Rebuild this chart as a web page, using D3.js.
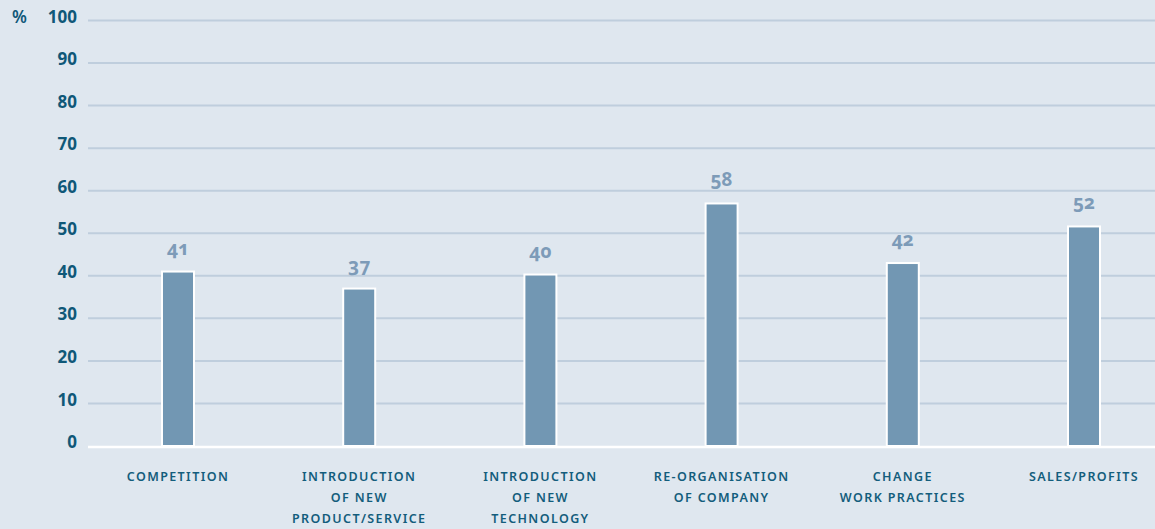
<!DOCTYPE html>
<html>
<head>
<meta charset="utf-8">
<script src="https://cdn.jsdelivr.net/npm/d3@7"></script>
<style>
  html, body { margin: 0; padding: 0; background: #dfe7ef; }
  svg { display: block; }
  text { font-family: "Noto Sans", "Open Sans", sans-serif; }
</style>
</head>
<body>
<svg id="chart" width="1155" height="529"></svg>
<script>
// ---- data ----
const categories = [
  ["COMPETITION"],
  ["INTRODUCTION", "OF NEW", "PRODUCT/SERVICE"],
  ["INTRODUCTION", "OF NEW", "TECHNOLOGY"],
  ["RE-ORGANISATION", "OF COMPANY"],
  ["CHANGE", "WORK PRACTICES"],
  ["SALES/PROFITS"]
];
const barValues = [41, 37, 40.3, 57, 43, 51.6];
const valueLabels = ["41", "37", "40", "58", "42", "52"];
const yTicks = [0, 10, 20, 30, 40, 50, 60, 70, 80, 90, 100];

// ---- layout ----
const W = 1155, H = 529;
const svg = d3.select("#chart");
svg.append("rect").attr("width", W).attr("height", H).attr("fill", "#dfe7ef");

const y = d3.scaleLinear().domain([0, 100]).range([446, 20.5]);
const x = d3.scaleBand().domain(d3.range(categories.length)).range([87.4, 1174.6]).padding(0);
const barW = 32;
const cx = i => x(i) + x.bandwidth() / 2;

// gridlines
svg.append("g").selectAll("line").data(yTicks.filter(d => d > 0)).join("line")
  .attr("x1", 88).attr("x2", W)
  .attr("y1", d => y(d)).attr("y2", d => y(d))
  .attr("stroke", "#bfcedd").attr("stroke-width", 2);

// tick labels
svg.append("g").selectAll("text").data(yTicks).join("text")
  .attr("x", 77).attr("y", d => y(d) - 4)
  .attr("dy", "0.36em")
  .attr("text-anchor", "end")
  .attr("fill", "#0f5878")
  .attr("font-size", 17).attr("font-weight", 700)
  .text(d => d);

svg.append("text").attr("x", 12).attr("y", y(100) - 4).attr("dy", "0.36em")
  .attr("fill", "#0f5878").attr("font-size", 17).attr("font-weight", 600).text("%");

// bars
svg.append("g").selectAll("rect").data(barValues).join("rect")
  .attr("x", (d, i) => cx(i) - barW / 2)
  .attr("y", d => y(d))
  .attr("width", barW)
  .attr("height", d => y(0) - y(d))
  .attr("fill", "#7297b3")
  .attr("stroke", "#ffffff").attr("stroke-width", 2);

// zero line
svg.append("line").attr("x1", 88).attr("x2", W).attr("y1", y(0) + 1).attr("y2", y(0) + 1)
  .attr("stroke", "#ffffff").attr("stroke-width", 2.5);

// value labels
svg.append("g").selectAll("text").data(barValues).join("text")
  .attr("x", (d, i) => cx(i))
  .attr("y", d => y(d) - 17)
  .attr("text-anchor", "middle")
  .attr("fill", "#7d9bb8")
  .attr("font-size", 19).attr("font-weight", 700)
  .style("font-feature-settings", "'onum' 1")
  .text((d, i) => valueLabels[i]);

// category labels
const cat = svg.append("g").selectAll("text").data(categories).join("text")
  .attr("x", (d, i) => cx(i))
  .attr("y", 481)
  .attr("text-anchor", "middle")
  .attr("fill", "#135d7c")
  .attr("font-size", 12.5).attr("font-weight", 600)
  .attr("letter-spacing", 1.4);
cat.selectAll("tspan").data(d => d).join("tspan")
  .attr("x", function() { return d3.select(this.parentNode).attr("x"); })
  .attr("dy", (d, j) => j === 0 ? 0 : 21)
  .text(d => d);
</script>
</body>
</html>
